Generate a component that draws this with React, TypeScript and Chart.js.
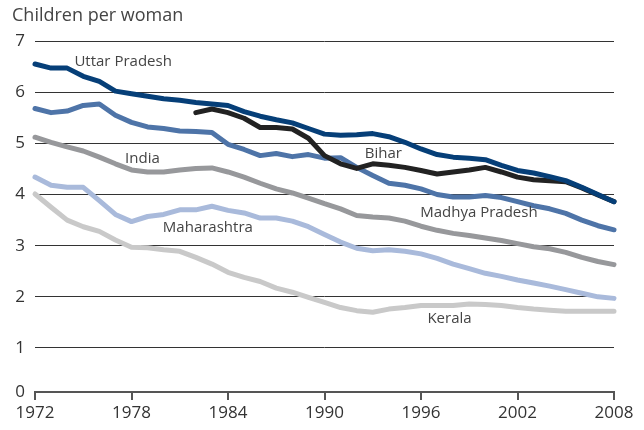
import React, { useEffect, useRef } from "react";
import { Chart, registerables } from "chart.js";

Chart.register(...registerables);

const years = [1972, 1973, 1974, 1975, 1976, 1977, 1978, 1979, 1980, 1981, 1982, 1983, 1984, 1985, 1986, 1987, 1988, 1989, 1990, 1991, 1992, 1993, 1994, 1995, 1996, 1997, 1998, 1999, 2000, 2001, 2002, 2003, 2004, 2005, 2006, 2007, 2008];

const uttarPradesh = [6.55, 6.47, 6.47, 6.31, 6.21, 6.02, 5.97, 5.92, 5.87, 5.84, 5.80, 5.77, 5.74, 5.62, 5.53, 5.46, 5.40, 5.29, 5.18, 5.16, 5.17, 5.19, 5.13, 5.02, 4.89, 4.78, 4.73, 4.71, 4.68, 4.57, 4.47, 4.42, 4.35, 4.27, 4.14, 4.00, 3.86];
const bihar = [null, null, null, null, null, null, null, null, null, null, 5.60, 5.67, 5.60, 5.49, 5.31, 5.31, 5.28, 5.10, 4.76, 4.60, 4.51, 4.60, 4.57, 4.53, 4.47, 4.40, 4.44, 4.48, 4.53, 4.44, 4.34, 4.29, 4.27, 4.25, 4.13, 3.99, 3.86];
const madhyaPradesh = [5.68, 5.60, 5.63, 5.74, 5.77, 5.55, 5.41, 5.32, 5.29, 5.24, 5.23, 5.21, 4.98, 4.88, 4.76, 4.80, 4.74, 4.78, 4.71, 4.72, 4.53, 4.37, 4.22, 4.18, 4.11, 4.00, 3.95, 3.95, 3.98, 3.94, 3.86, 3.78, 3.72, 3.63, 3.50, 3.39, 3.31];
const india = [5.12, 5.02, 4.93, 4.85, 4.73, 4.60, 4.48, 4.44, 4.44, 4.48, 4.51, 4.52, 4.44, 4.34, 4.22, 4.11, 4.03, 3.93, 3.82, 3.72, 3.59, 3.56, 3.54, 3.48, 3.38, 3.30, 3.24, 3.20, 3.15, 3.10, 3.04, 2.98, 2.94, 2.87, 2.77, 2.69, 2.63];
const maharashtra = [4.34, 4.18, 4.14, 4.14, 3.88, 3.61, 3.47, 3.57, 3.61, 3.70, 3.70, 3.77, 3.69, 3.64, 3.54, 3.54, 3.48, 3.37, 3.22, 3.07, 2.95, 2.90, 2.92, 2.89, 2.84, 2.75, 2.64, 2.55, 2.46, 2.40, 2.33, 2.27, 2.21, 2.14, 2.07, 2.00, 1.97];
const kerala = [4.01, 3.75, 3.50, 3.37, 3.28, 3.11, 2.97, 2.96, 2.92, 2.89, 2.77, 2.64, 2.48, 2.38, 2.30, 2.17, 2.09, 1.99, 1.89, 1.79, 1.73, 1.70, 1.76, 1.79, 1.83, 1.83, 1.83, 1.86, 1.85, 1.83, 1.79, 1.76, 1.74, 1.72, 1.72, 1.72, 1.72];

const seriesNames = ["Uttar Pradesh", "Bihar", "Madhya Pradesh", "India", "Maharashtra", "Kerala"];
const seriesColors = ["#063f78", "#222222", "#4e74a8", "#97989b", "#a9badb", "#c9c9c9"];

const xTicks = [1972, 1978, 1984, 1990, 1996, 2002, 2008];
const yTickValues = [1, 2, 3, 4, 5, 6, 7];
const yAxisBase = 0.14;

// label anchors (year, value) for each series name
const labelYears = [1974.45, 1992.5, 1995.95, 1977.6, 1979.95, 1996.4];
const labelValues = [6.59, 4.8, 3.65, 4.7, 3.36, 1.57];

const FONT = "'Open Sans', 'Noto Sans', sans-serif";

export default function App() {
  const ref = useRef<HTMLCanvasElement | null>(null);

  useEffect(() => {
    const canvas = ref.current;
    if (!canvas) return;
    const allSeries = [uttarPradesh, bihar, madhyaPradesh, india, maharashtra, kerala];
    const datasets = allSeries.map((vals, i) => ({
      label: seriesNames[i],
      data: years
        .map((yr, j) => ({ x: yr, y: vals[j] as number | null }))
        .filter((p) => p.y !== null),
      borderColor: seriesColors[i],
      backgroundColor: seriesColors[i],
      borderWidth: 5,
      pointRadius: 0,
      tension: 0,
      borderCapStyle: "round" as const,
      borderJoinStyle: "round" as const,
      clip: false as any,
      fill: false,
    }));

    const labelPlugin = {
      id: "labels",
      afterDraw(chart: any) {
        const ctx = chart.ctx;
        const xs = chart.scales.x;
        const ys = chart.scales.y;
        ctx.save();
        ctx.fillStyle = "#444";
        ctx.font = `15px ${FONT}`;
        ctx.textAlign = "left";
        ctx.textBaseline = "middle";
        seriesNames.forEach((name, i) => {
          ctx.fillText(name, xs.getPixelForValue(labelYears[i]), ys.getPixelForValue(labelValues[i]));
        });
        ctx.font = `18px ${FONT}`;
        ctx.fillText("Children per woman", 12, 16);
        ctx.restore();
      },
    };

    const chart = new Chart(canvas, {
      type: "line",
      data: { datasets },
      options: {
        animation: false,
        responsive: false,
        maintainAspectRatio: false,
        layout: { padding: { top: 41, right: 30, left: 0, bottom: 0 } },
        plugins: { legend: { display: false }, tooltip: { enabled: false }, title: { display: false } },
        scales: {
          x: {
            type: "linear",
            min: 1972,
            max: 2008,
            afterBuildTicks: (scale: any) => {
              scale.ticks = xTicks.map((v) => ({ value: v }));
            },
            afterFit: (scale: any) => {
              scale.height = 38;
            },
            ticks: {
              color: "#333",
              font: { family: FONT, size: 17 },
              padding: 3,
              maxRotation: 0,
              autoSkip: false,
              callback: (v: any) => String(v),
            },
            grid: {
              drawOnChartArea: false,
              drawTicks: true,
              tickLength: 8,
              color: "#555",
              lineWidth: 2,
            },
            border: { display: true, color: "#555", width: 2 },
          },
          y: {
            type: "linear",
            min: yAxisBase,
            max: 7,
            afterBuildTicks: (scale: any) => {
              scale.ticks = [{ value: yAxisBase }, ...yTickValues.map((v) => ({ value: v }))];
            },
            afterFit: (scale: any) => {
              scale.width = 35;
            },
            ticks: {
              color: "#333",
              font: { family: FONT, size: 17 },
              padding: 10,
              callback: (v: any) => (v < 0.5 ? "0" : String(v)),
            },
            grid: {
              drawTicks: false,
              color: (c: any) => (c.tick && c.tick.value < 0.5 ? "rgba(0,0,0,0)" : "#333"),
              lineWidth: 1,
            },
            border: { display: false },
          },
        },
      },
      plugins: [labelPlugin],
    });
    return () => chart.destroy();
  }, []);

  return (
    <div style={{ position: "fixed", left: 0, top: 0, width: 644, height: 430, background: "#fff" }}>
      <canvas ref={ref} width={644} height={430} style={{ width: 644, height: 430 }} />
    </div>
  );
}
